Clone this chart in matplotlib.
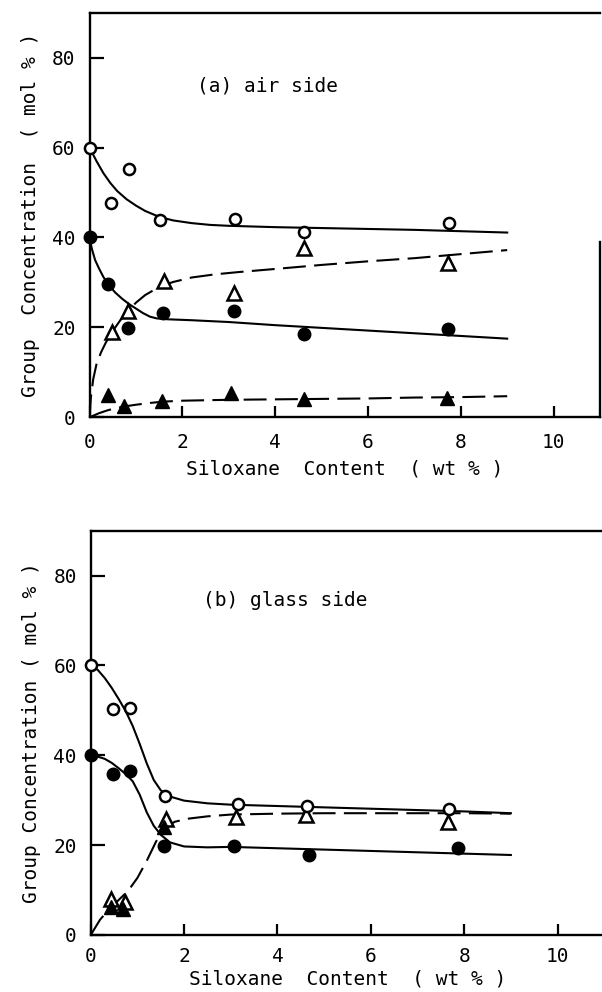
import matplotlib
matplotlib.use("Agg")
import matplotlib.pyplot as plt
import numpy as np

plt.rcParams['font.family'] = 'DejaVu Sans Mono'

# ---- (a) air side : measured points ----
a_oc_x = [0.0, 0.46, 0.84, 1.52, 3.14, 4.62, 7.75]
a_oc_y = [60.0, 47.6, 55.3, 44.0, 44.1, 41.2, 43.2]
a_fc_x = [0.0, 0.39, 0.82, 1.59, 3.12, 4.63, 7.73]
a_fc_y = [40.0, 29.6, 19.9, 23.2, 23.6, 18.6, 19.7]
a_ot_x = [0.48, 0.82, 1.61, 3.12, 4.63, 7.73]
a_ot_y = [19.0, 23.6, 30.3, 27.6, 37.7, 34.3]
a_ft_x = [0.39, 0.75, 1.56, 3.05, 4.62, 7.71]
a_ft_y = [4.9, 2.5, 3.6, 5.5, 4.0, 4.2]

# (a) hand-drawn fit curves
a_c1_x = [0, 0.15, 0.3, 0.45, 0.6, 0.8, 1.0, 1.2, 1.5, 1.8, 2.2, 2.6, 3.0, 4.0, 5.0, 6.0, 7.0, 8.0, 9.0]
a_c1_y = [60, 57, 54.3, 52.1, 50.3, 48.5, 47.1, 45.9, 44.6, 43.8, 43.2, 42.8, 42.6, 42.3, 42.1, 41.9, 41.7, 41.4, 41.1]
a_c2_x = [0, 0.05, 0.12, 0.2, 0.3, 0.4, 0.55, 0.7, 0.85, 1.0, 1.15, 1.3, 1.45, 1.7, 2.2, 3.0, 4.0, 5.0, 6.0, 7.0, 8.0, 9.0]
a_c2_y = [40, 37.5, 35, 33.2, 31.2, 29.6, 27.8, 26.4, 25.2, 24.2, 23.2, 22.4, 22.0, 21.8, 21.6, 21.2, 20.5, 19.9, 19.3, 18.7, 18.1, 17.5]
a_d1_x = [0, 0.03, 0.08, 0.15, 0.25, 0.35, 0.5, 0.65, 0.8, 1.0, 1.2, 1.5, 1.8, 2.2, 2.7, 3.2, 4.0, 5.0, 6.0, 7.0, 8.0, 9.0]
a_d1_y = [0, 4.5, 8.5, 11.8, 14.5, 16.6, 19.2, 21.4, 23.3, 25.5, 27.2, 29.0, 30.1, 31.1, 31.8, 32.3, 33.0, 33.9, 34.7, 35.4, 36.3, 37.2]
a_d2_x = [0, 0.2, 0.4, 0.6, 0.8, 1.0, 1.3, 1.6, 2.0, 3.0, 4.0, 5.0, 6.0, 7.0, 8.0, 9.0]
a_d2_y = [0, 0.9, 1.6, 2.1, 2.5, 2.8, 3.2, 3.5, 3.7, 3.9, 4.0, 4.1, 4.2, 4.4, 4.5, 4.7]

# ---- (b) glass side : measured points ----
b_oc_x = [0.0, 0.48, 0.84, 1.60, 3.15, 4.64, 7.68]
b_oc_y = [60.0, 50.3, 50.6, 30.9, 29.1, 28.8, 28.1]
b_fc_x = [0.0, 0.48, 0.84, 1.58, 3.07, 4.68, 7.87]
b_fc_y = [40.0, 35.9, 36.6, 19.8, 19.8, 17.9, 19.3]
b_ot_x = [0.43, 0.73, 1.61, 3.12, 4.61, 7.66]
b_ot_y = [7.9, 7.4, 25.8, 26.3, 26.8, 25.2]
b_ft_x = [0.43, 0.70, 1.57]
b_ft_y = [6.3, 5.7, 24.0]

b_c1_x = [0, 0.15, 0.3, 0.45, 0.6, 0.75, 0.9, 1.05, 1.2, 1.35, 1.5, 1.7, 2.0, 2.5, 3.0, 4.0, 5.0, 6.0, 7.0, 8.0, 9.0]
b_c1_y = [60, 59, 57.2, 55, 52.5, 49.8, 46.5, 42.5, 38.2, 34.5, 32.2, 30.8, 29.9, 29.3, 29.0, 28.7, 28.4, 28.1, 27.8, 27.5, 27.1]
b_c2_x = [0, 0.15, 0.3, 0.45, 0.6, 0.75, 0.9, 1.05, 1.2, 1.35, 1.5, 1.7, 2.0, 2.5, 3.0, 4.0, 5.0, 6.0, 7.0, 8.0, 9.0]
b_c2_y = [40, 39.7, 39.2, 38.3, 37.1, 35.8, 34.2, 31.2, 27.3, 24.3, 22.3, 20.6, 19.7, 19.5, 19.6, 19.3, 19.0, 18.7, 18.4, 18.1, 17.8]
b_d1_x = [0, 0.2, 0.4, 0.6, 0.8, 1.0, 1.2, 1.4, 1.6, 1.8, 2.1, 2.5, 3.0, 4.0, 5.0, 6.0, 7.0, 8.0, 9.0]
b_d1_y = [0, 3.4, 5.8, 7.8, 9.8, 12.7, 16.5, 20.8, 23.9, 25.2, 25.9, 26.4, 26.8, 27.0, 27.1, 27.1, 27.1, 27.1, 27.0]

x_ticks = [0, 2, 4, 6, 8, 10]
y_ticks = [0, 20, 40, 60, 80]

fig = plt.figure(figsize=(6.02, 9.92), dpi=100)
ax1 = fig.add_axes([0.1487, 0.5793, 0.848, 0.4079])
ax2 = fig.add_axes([0.1507, 0.0575, 0.853, 0.4076])

dash = (0, (11, 4))


def style(ax, ylabel, label, lx, ly, right_top, xpad, xlpad):
    ax.set_xlim(0, 11)
    ax.set_ylim(0, 90)
    ax.set_xticks(x_ticks)
    ax.set_yticks(y_ticks)
    ax.tick_params(axis='x', direction='in', length=8, width=1.6, pad=xpad, labelsize=14)
    ax.tick_params(axis='y', direction='in', length=10, width=1.6, pad=10, labelsize=14)
    for s in ['left', 'bottom', 'top', 'right']:
        ax.spines[s].set_linewidth(1.7)
    ax.spines['right'].set_bounds(0, right_top)
    ax.set_xlabel('Siloxane  Content  ( wt % )', fontsize=14, labelpad=xlpad)
    ax.set_ylabel(ylabel, fontsize=14, labelpad=9)
    ax.text(lx, ly, label, fontsize=14, va='center', ha='left')


def draw(ax, curves, pts):
    for cx, cy, ls in curves:
        ax.plot(cx, cy, color='black', lw=1.5, linestyle=ls, zorder=2)
    ox, oy, fx, fy, tx, ty, ftx, fty = pts
    ax.plot(tx, ty, linestyle='none', marker='^', ms=10, mfc='white', mec='black', mew=1.8, zorder=3, clip_on=False)
    ax.plot(ftx, fty, linestyle='none', marker='^', ms=10, color='black', zorder=4, clip_on=False)
    ax.plot(ox, oy, linestyle='none', marker='o', ms=8, mfc='white', mec='black', mew=1.8, zorder=5, clip_on=False)
    ax.plot(fx, fy, linestyle='none', marker='o', ms=9, color='black', zorder=4, clip_on=False)


draw(ax1,
     [(a_c1_x, a_c1_y, '-'), (a_c2_x, a_c2_y, '-'), (a_d1_x, a_d1_y, dash), (a_d2_x, a_d2_y, dash)],
     (a_oc_x, a_oc_y, a_fc_x, a_fc_y, a_ot_x, a_ot_y, a_ft_x, a_ft_y))
style(ax1, 'Group  Concentration  ( mol % )', '(a) air side', 2.31, 73.7, 39, 11, 6)

draw(ax2,
     [(b_c1_x, b_c1_y, '-'), (b_c2_x, b_c2_y, '-'), (b_d1_x, b_d1_y, dash)],
     (b_oc_x, b_oc_y, b_fc_x, b_fc_y, b_ot_x, b_ot_y, b_ft_x, b_ft_y))
style(ax2, 'Group Concentration ( mol % )', '(b) glass side', 2.4, 74.4, 4, 9, 2)

fig.savefig('out.png', dpi=100)
